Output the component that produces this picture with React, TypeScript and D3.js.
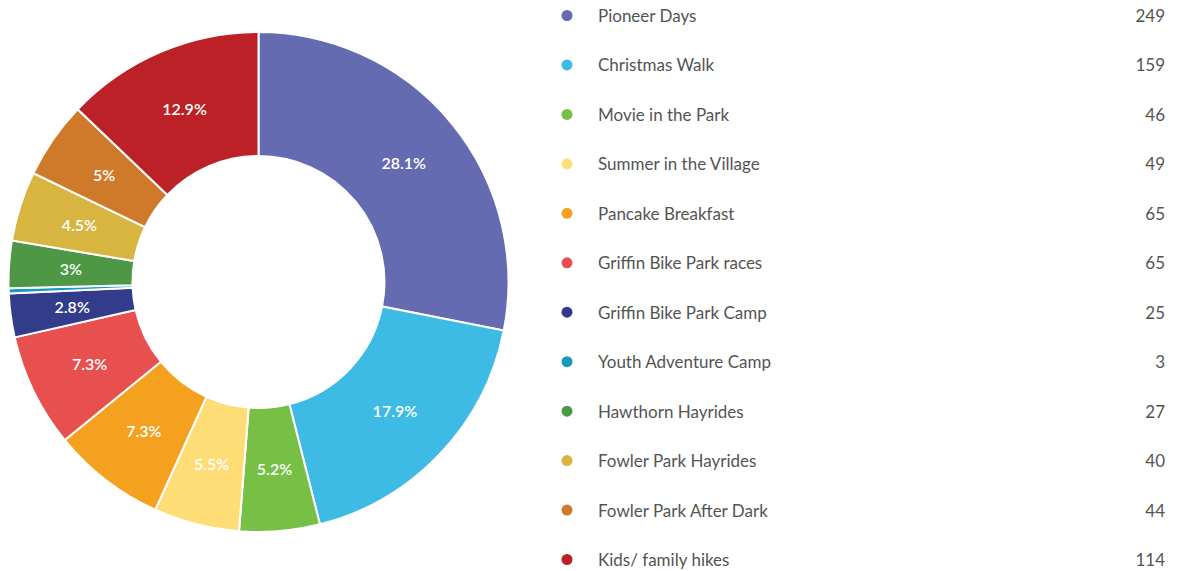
import React from "react";
import * as d3 from "d3";

const categories = [
  "Pioneer Days",
  "Christmas Walk",
  "Movie in the Park",
  "Summer in the Village",
  "Pancake Breakfast",
  "Griffin Bike Park races",
  "Griffin Bike Park Camp",
  "Youth Adventure Camp",
  "Hawthorn Hayrides",
  "Fowler Park Hayrides",
  "Fowler Park After Dark",
  "Kids/ family hikes",
];
const values = [249, 159, 46, 49, 65, 65, 25, 3, 27, 40, 44, 114];
const colors = [
  "#656bb1",
  "#3dbbe4",
  "#77bf45",
  "#fedc76",
  "#f5a120",
  "#e85050",
  "#323c8a",
  "#1b97b9",
  "#4e9845",
  "#d8b441",
  "#cf7a2a",
  "#bc2127",
];

const W = 1196;
const H = 571;
const cx = 258.5;
const cy = 282;
const outerR = 250;
const innerR = 126;

export default function App() {
  const total = d3.sum(values);
  const pie = d3.pie<number>().sort(null).value((d) => d);
  const arcs = pie(values);
  const arc = d3.arc<d3.PieArcDatum<number>>().innerRadius(innerR).outerRadius(outerR);
  const labelArc = d3
    .arc<d3.PieArcDatum<number>>()
    .innerRadius((innerR + outerR) / 2)
    .outerRadius((innerR + outerR) / 2);
  const rowY = d3.scaleLinear().domain([0, categories.length - 1]).range([15.5, 559.5]);
  const fmt = (v: number) => {
    const p = Math.round((v / total) * 1000) / 10;
    return `${p}%`;
  };
  return (
    <svg
      width={W}
      height={H}
      style={{ position: "absolute", left: 0, top: 0, display: "block", fontFamily: "Lato, sans-serif" }}
    >
      <rect width={W} height={H} fill="#ffffff" />
      <g transform={`translate(${cx},${cy})`}>
        {arcs.map((a, i) => (
          <path key={i} d={arc(a) || ""} fill={colors[i]} stroke="#ffffff" strokeWidth={2} />
        ))}
        {arcs.map((a, i) => {
          if (a.value / total < 0.02) return null;
          const [x, y] = labelArc.centroid(a);
          return (
            <text
              key={"l" + i}
              x={x}
              y={y - 0.5}
              textAnchor="middle"
              dominantBaseline="central"
              fill="#ffffff"
              fontSize={16}
              fontWeight={600}
            >
              {fmt(a.value)}
            </text>
          );
        })}
      </g>
      <g>
        {categories.map((c, i) => (
          <g key={c} transform={`translate(0,${rowY(i)})`}>
            <circle cx={567} cy={0} r={5.5} fill={colors[i]} />
            <text x={598} y={0} dominantBaseline="central" fontSize={17} fill="#545454">
              {c}
            </text>
            <text x={1165} y={0} dominantBaseline="central" textAnchor="end" fontSize={17} fill="#545454">
              {values[i]}
            </text>
          </g>
        ))}
      </g>
    </svg>
  );
}
